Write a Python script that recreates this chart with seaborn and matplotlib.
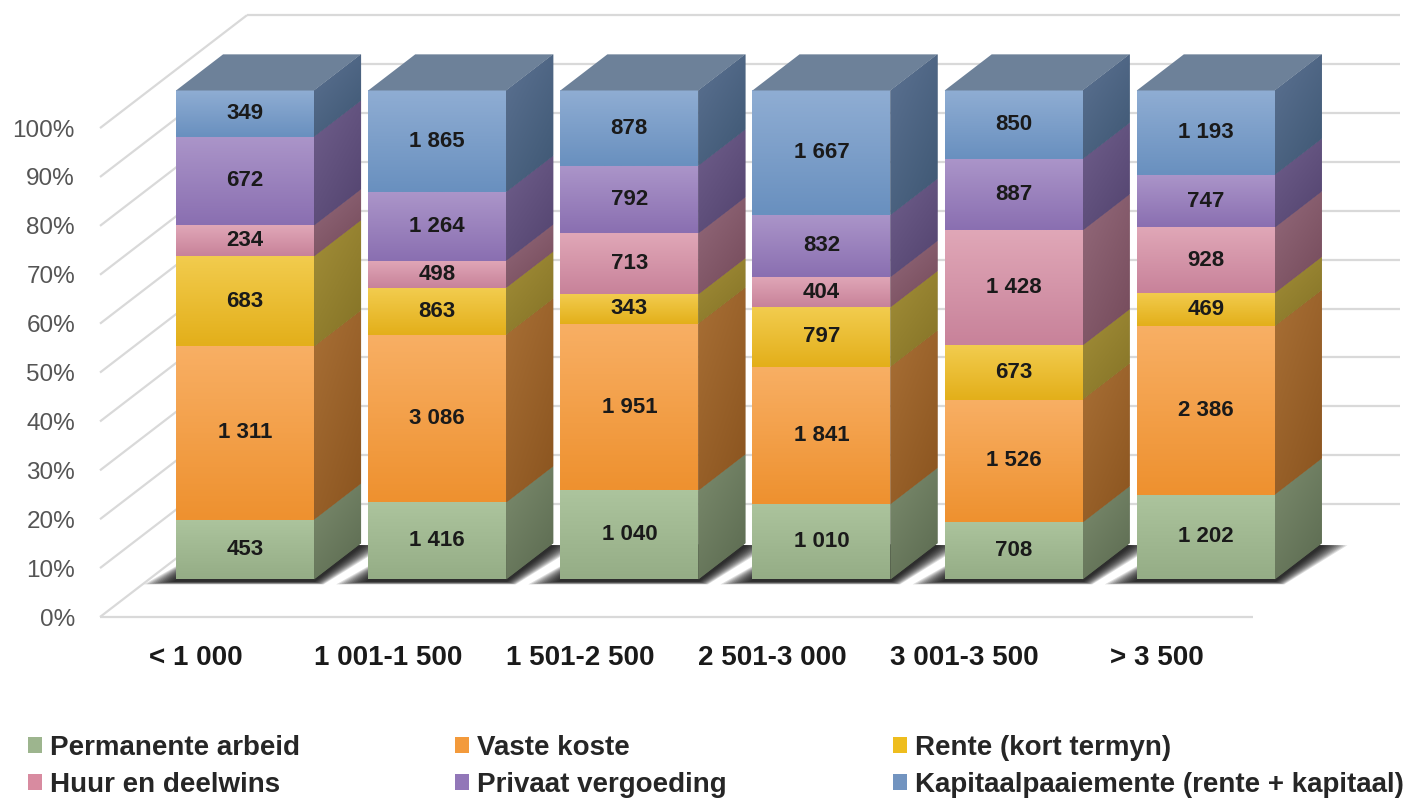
import numpy as np
import matplotlib
matplotlib.use("Agg")
import matplotlib.pyplot as plt
import seaborn as sns
from matplotlib.colors import LinearSegmentedColormap
from matplotlib.patches import Polygon, Patch

# ---- data -------------------------------------------------------------
categories = ["< 1 000", "1 001-1 500", "1 501-2 500", "2 501-3 000", "3 001-3 500", "> 3 500"]
series_names = [
    "Permanente arbeid",
    "Vaste koste",
    "Rente (kort termyn)",
    "Huur en deelwins",
    "Privaat vergoeding",
    "Kapitaalpaaiemente (rente + kapitaal)",
]
permanente_arbeid = [453, 1416, 1040, 1010, 708, 1202]
vaste_koste = [1311, 3086, 1951, 1841, 1526, 2386]
rente_kort = [683, 863, 343, 797, 673, 469]
huur_deelwins = [234, 498, 713, 404, 1428, 928]
privaat_vergoeding = [672, 1264, 792, 832, 887, 747]
kapitaalpaaiemente = [349, 1865, 878, 1667, 850, 1193]
y_ticks = list(range(0, 101, 10))

# (front top, front bottom, side light, side dark, legend)
palette = [
    ("#acc49d", "#95ad86", "#7b8b6d", "#5b6a50", "#9db58e"),
    ("#f8af64", "#ee912f", "#a86f35", "#8a541f", "#f39a3b"),
    ("#f2cc4e", "#e3af1a", "#a28e38", "#847226", "#eebd1e"),
    ("#e0a7b7", "#c8829a", "#93697a", "#744a5a", "#d88ba0"),
    ("#ab95c9", "#8a6fb1", "#6f5e8b", "#52436e", "#9277b8"),
    ("#8fadd3", "#6990bf", "#5b7191", "#3e5773", "#7294c0"),
]
top_color = "#6d8199"
grid_color = "#d9d9d9"

# ---- geometry of the fake 3d view -------------------------------------
DX, DY = 0.765, 23.1      # full depth shift (x in categories, y in %)
D0, D1 = 0.333, 0.653     # bar front / back depth
BAR_W = 0.718


def gradient_patch(ax, patch, c_light, c_dark, z, diagonal=False):
    if isinstance(patch, Polygon):
        verts = patch.get_xy()
    else:
        verts = patch.get_path().transformed(patch.get_patch_transform()).vertices
    xs, ys = verts[:, 0], verts[:, 1]
    cmap = LinearSegmentedColormap.from_list("g", [c_dark, c_light])
    v = np.linspace(0, 1, 64)
    if diagonal:
        u = np.linspace(0, 1, 16)
        grad = 0.6 * v[:, None] + 0.4 * (1 - u[None, :])
    else:
        grad = np.tile(v[:, None], (1, 2))
    im = ax.imshow(grad, extent=(xs.min(), xs.max(), ys.min(), ys.max()),
                   origin="lower", cmap=cmap, aspect="auto", zorder=z,
                   interpolation="bilinear")
    im.set_clip_path(patch)


def fmt(v):
    return f"{v:,}".replace(",", " ")


sns.set_theme(style="white")
plt.rcParams["font.family"] = ["Liberation Sans", "DejaVu Sans"]

fig = plt.figure(figsize=(14.13, 8.09), dpi=100)
ax = fig.add_axes([100 / 1413, 192 / 809, 1313 / 1413, 617 / 809])

series = [permanente_arbeid, vaste_koste, rente_kort, huur_deelwins,
          privaat_vergoeding, kapitaalpaaiemente]
values = np.array(series, dtype=float)
shares = values / values.sum(axis=0) * 100
x = np.arange(len(categories))

# walls and floor
x_left = -0.5
x_back_right = len(categories) - 0.5 + DX
for p in y_ticks:
    ax.plot([x_left, x_left + DX], [p, p + DY], color=grid_color, lw=1.6,
            zorder=0, clip_on=False, solid_capstyle="butt")
    ax.plot([x_left + DX, x_back_right], [p + DY, p + DY], color=grid_color,
            lw=1.6, zorder=0, clip_on=False, solid_capstyle="butt")
ax.plot([x_left, len(categories) - 0.5], [0, 0], color=grid_color, lw=1.6,
        zorder=0, clip_on=False, solid_capstyle="butt")

# bar positions on the front face
xf = x + D0 * DX
y0 = D0 * DY
ddx = (D1 - D0) * DX
ddy = (D1 - D0) * DY
px_x = 192.15
px_y = 4.889

# soft shadows under each bar
for xc in xf:
    xl, xr = xc - BAR_W / 2, xc + BAR_W / 2
    n = 12
    for k in range(n):
        f = 1 - k / n
        e = 32 * f / px_x
        down = (2 + 3 * f) / px_y
        verts = [(xl - e, y0 - down), (xr + e * 0.3, y0 - down),
                 (xr + ddx + e * 0.8, y0 + ddy - 2 / px_y),
                 (xl + ddx - e * 0.2, y0 + ddy)]
        ax.add_patch(Polygon(verts, closed=True, facecolor="black",
                             edgecolor="none", alpha=0.13, zorder=1))

# stacked bars
bottoms = np.zeros(len(categories))
for s, (name, share, vals) in enumerate(zip(series_names, shares, series)):
    ft, fb, sl, sd, lc = palette[s]
    bars = ax.bar(xf, share, bottom=bottoms + y0, width=BAR_W, color=lc,
                  linewidth=0, zorder=3)
    for i, b in enumerate(bars):
        gradient_patch(ax, b, ft, fb, 3)
        xr = xf[i] + BAR_W / 2
        lo = bottoms[i] + y0
        hi = lo + share[i]
        side = Polygon([(xr, lo), (xr + ddx, lo + ddy), (xr + ddx, hi + ddy), (xr, hi)],
                       closed=True, facecolor=sd, edgecolor="none", zorder=2)
        ax.add_patch(side)
        gradient_patch(ax, side, sl, sd, 2, diagonal=True)
        ax.text(xf[i], lo + share[i] / 2, fmt(vals[i]), ha="center", va="center",
                fontsize=16, fontweight="bold", color="#1a1a1a", zorder=6)
    bottoms += share

# top faces
for i, xc in enumerate(xf):
    xl, xr = xc - BAR_W / 2, xc + BAR_W / 2
    t = bottoms[i] + y0
    ax.add_patch(Polygon([(xl, t), (xr, t), (xr + ddx, t + ddy), (xl + ddx, t + ddy)],
                         closed=True, facecolor=top_color, edgecolor="none", zorder=4))

ax.set_xlim(-0.5, 1313 / px_x - 0.5)
ax.set_ylim(0, 617 / px_y)
ax.set_yticks(y_ticks)
ax.set_yticklabels([f"{t}%" for t in y_ticks])
ax.set_xticks(x)
ax.set_xticklabels(categories)
ax.tick_params(axis="y", length=0, pad=18, labelsize=17.5, labelcolor="#555555")
ax.tick_params(axis="x", length=0, pad=20, labelsize=20, labelcolor="#1a1a1a")
for lab in ax.get_xticklabels():
    lab.set_fontweight("bold")
for sp in ax.spines.values():
    sp.set_visible(False)
ax.grid(False)
ax.set_facecolor("none")

# legend in three columns
col_x = [28 / 1413, 455 / 1413, 893 / 1413]
for c in range(3):
    idx = [c, c + 3]
    handles = [Patch(facecolor=palette[j][4], edgecolor="none") for j in idx]
    fig.legend(handles, [series_names[j] for j in idx], loc="center left",
               bbox_to_anchor=(col_x[c], 1 - 766.5 / 809), frameon=False,
               prop={"size": 20, "weight": "bold"}, handlelength=0.5,
               handleheight=0.5, handletextpad=0.3, labelspacing=0.4,
               borderpad=0, borderaxespad=0)

fig.savefig("out.png", dpi=100, facecolor="white")
